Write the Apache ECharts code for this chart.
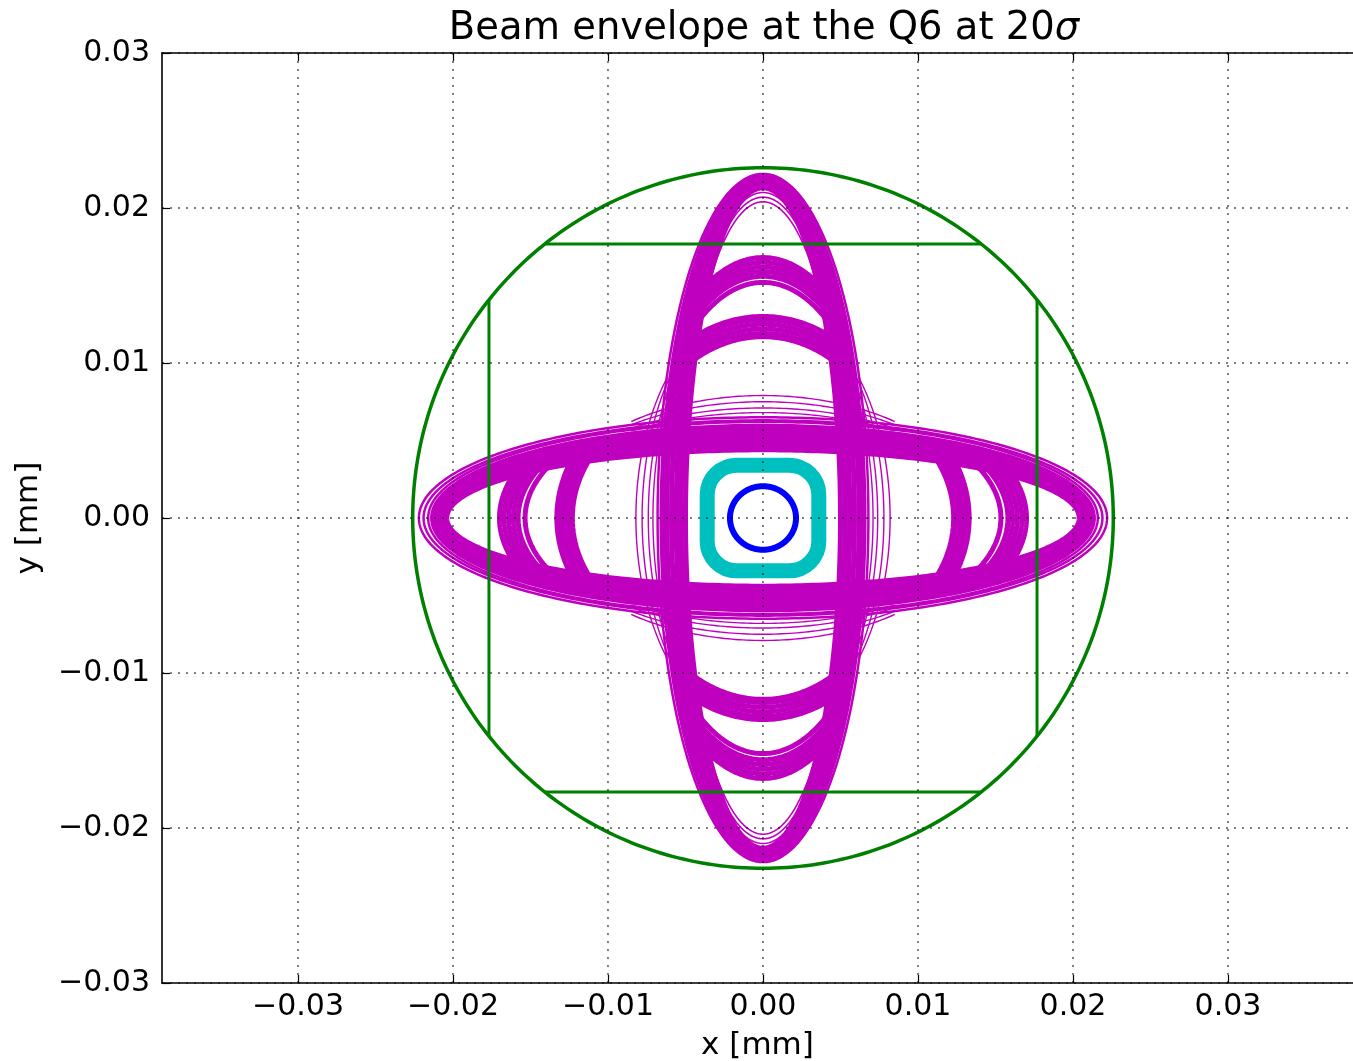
<!DOCTYPE html>
<html>
<head>
<meta charset="utf-8">
<script src="https://cdn.jsdelivr.net/npm/echarts@6/dist/echarts.min.js"></script>
<style>
  html, body { margin: 0; padding: 0; background: #ffffff; }
  #chart { width: 1353px; height: 1061px; }
</style>
</head>
<body>
<div id="chart"></div>
<script>
// Axis extents and tick values (mm)
const xMin = -0.038774;
const xMax = 0.038065;
const yLimit = 0.03;
const xTickValues = [-0.03, -0.02, -0.01, 0.00, 0.01, 0.02, 0.03];
const yTickValues = [-0.03, -0.02, -0.01, 0.00, 0.01, 0.02, 0.03];

// 20 sigma envelope, tall family: [semi-axis x, semi-axis y]
const tallCore = [[0.0050, 0.0213], [0.0053, 0.0215], [0.0056, 0.0217], [0.0059, 0.0218], [0.0062, 0.0220], [0.0064, 0.0221]];
const tallOuterLines = [[0.0066, 0.0221], [0.0068, 0.0222]];
const tallInnerLines = [[0.0052, 0.0204], [0.0054, 0.0207], [0.0055, 0.0210]];
// tall family, intermediate arcs (drawn where |x| <= tallArcLimit)
const tallArcLimit = 0.0046;
const tallArcMid = [[0.0082, 0.0168], [0.0081, 0.0165], [0.0080, 0.0162], [0.0079, 0.0159], [0.0078, 0.0156], [0.0076, 0.0152]];
const tallArcLow = [[0.0101, 0.0130], [0.0099, 0.0128], [0.0097, 0.0125], [0.0095, 0.0122], [0.0093, 0.0119], [0.0091, 0.0117]];
// tall family, sparse outer traces (drawn where |y| <= tallFlareLimit)
const tallFlareLimit = 0.0090;
const tallFlares = [[0.0071, 0.0150], [0.0074, 0.0147], [0.0078, 0.0143], [0.0082, 0.0138]];

// 20 sigma envelope, wide family
const wideCore = [[0.0204, 0.0044], [0.0206, 0.0046], [0.0207, 0.0048], [0.0208, 0.0050], [0.0209, 0.0052], [0.0210, 0.0054], [0.0211, 0.0056], [0.0212, 0.0058]];
const wideOuterLines = [[0.0214, 0.0060], [0.0216, 0.0062], [0.0219, 0.0063], [0.0222, 0.0065]];
// wide family, intermediate arcs (drawn where |y| <= limit)
const wideArcMidLimit = 0.0038;
const wideArcMid = [[0.0170, 0.0087], [0.0167, 0.0085], [0.0164, 0.0083], [0.0161, 0.0081], [0.0158, 0.0079], [0.01535, 0.0077]];
const wideArcLowLimit = 0.0041;
const wideArcLow = [[0.0133, 0.0101], [0.0131, 0.0099], [0.0129, 0.0097], [0.0127, 0.0095], [0.0125, 0.0093], [0.0123, 0.0091]];
// wide family, sparse outer traces (drawn where |x| <= wideFlareLimit)
const wideFlareLimit = 0.0085;
const wideFlares = [[0.0150, 0.0068], [0.0146, 0.0071], [0.0142, 0.0075], [0.0138, 0.0079]];

// Small-amplitude envelope: [half width, half height, corner radius]
const coreEnvelope = [[0.0036, 0.0034, 0.0019]];
// 1 sigma beam: [semi-axis x, semi-axis y]
const beamSigma = [[0.00213, 0.00205]];
// Aperture: circle radius and rectangle half size
const apertureRadius = [0.0226];
const apertureHalfSize = [0.01768];

const FONT = 'DejaVu Sans';
const MAGENTA = '#bf00bf';
const STEPS = 360;

function ellipsePoints(api, a, b, t0, t1) {
  const pts = [];
  const n = Math.max(8, Math.ceil(STEPS * Math.abs(t1 - t0) / (2 * Math.PI)));
  for (let k = 0; k <= n; k++) {
    const t = t0 + (t1 - t0) * k / n;
    pts.push(api.coord([a * Math.cos(t), b * Math.sin(t)]));
  }
  return pts;
}

function fullEllipse(color, width) {
  return function (params, api) {
    const a = api.value(0), b = api.value(1);
    return {
      type: 'polyline',
      shape: { points: ellipsePoints(api, a, b, 0, 2 * Math.PI) },
      style: { stroke: color, lineWidth: width, fill: null, lineJoin: 'round' }
    };
  };
}

// Top and bottom pieces of an ellipse, where |x| <= limit
function capArcs(color, width, limit) {
  return function (params, api) {
    const a = api.value(0), b = api.value(1);
    const t0 = Math.acos(Math.min(1, limit / a));
    const st = { stroke: color, lineWidth: width, fill: null, lineJoin: 'round' };
    return {
      type: 'group',
      children: [
        { type: 'polyline', shape: { points: ellipsePoints(api, a, b, t0, Math.PI - t0) }, style: st },
        { type: 'polyline', shape: { points: ellipsePoints(api, a, b, Math.PI + t0, 2 * Math.PI - t0) }, style: st }
      ]
    };
  };
}

// Left and right pieces of an ellipse, where |y| <= limit
function sideArcs(color, width, limit) {
  return function (params, api) {
    const a = api.value(0), b = api.value(1);
    const t0 = Math.asin(Math.min(1, limit / b));
    const st = { stroke: color, lineWidth: width, fill: null, lineJoin: 'round' };
    return {
      type: 'group',
      children: [
        { type: 'polyline', shape: { points: ellipsePoints(api, a, b, -t0, t0) }, style: st },
        { type: 'polyline', shape: { points: ellipsePoints(api, a, b, Math.PI - t0, Math.PI + t0) }, style: st }
      ]
    };
  };
}

function envelopeSeries(name, data, renderItem, z) {
  return { type: 'custom', name: name, data: data, renderItem: renderItem, z: z, silent: true, animation: false };
}

const tickLabel = v => (v < -1e-9 ? '\u2212' : '') + Math.abs(v).toFixed(2);

const series = [
  envelopeSeries('tallCore', tallCore, fullEllipse(MAGENTA, 5), 2),
  envelopeSeries('tallOuter', tallOuterLines, fullEllipse(MAGENTA, 2.5), 2),
  envelopeSeries('tallInner', tallInnerLines, fullEllipse(MAGENTA, 1.6), 2),
  envelopeSeries('tallArcMid', tallArcMid, capArcs(MAGENTA, 5, tallArcLimit), 2),
  envelopeSeries('tallArcLow', tallArcLow, capArcs(MAGENTA, 5, tallArcLimit), 2),
  envelopeSeries('tallFlares', tallFlares, sideArcs(MAGENTA, 1.4, tallFlareLimit), 2),
  envelopeSeries('wideCore', wideCore, fullEllipse(MAGENTA, 5), 2),
  envelopeSeries('wideOuter', wideOuterLines, fullEllipse(MAGENTA, 2.5), 2),
  envelopeSeries('wideArcMid', wideArcMid, sideArcs(MAGENTA, 5, wideArcMidLimit), 2),
  envelopeSeries('wideArcLow', wideArcLow, sideArcs(MAGENTA, 5, wideArcLowLimit), 2),
  envelopeSeries('wideFlares', wideFlares, capArcs(MAGENTA, 1.4, wideFlareLimit), 2),
  {
    type: 'custom', name: 'coreEnvelope', data: coreEnvelope, z: 3, silent: true, animation: false,
    renderItem: function (params, api) {
      const hw = api.value(0), hh = api.value(1), r = api.value(2);
      const p0 = api.coord([-hw, hh]);
      const p1 = api.coord([hw, -hh]);
      const rp = api.size([r, r]);
      return {
        type: 'rect',
        shape: { x: p0[0], y: p0[1], width: p1[0] - p0[0], height: p1[1] - p0[1], r: rp[0] },
        style: { stroke: '#00bfbf', lineWidth: 15, fill: null }
      };
    }
  },
  envelopeSeries('beamSigma', beamSigma, fullEllipse('#0000ff', 6), 4),
  {
    type: 'custom', name: 'aperture', data: [[apertureRadius[0], apertureHalfSize[0]]], z: 5, silent: true, animation: false,
    renderItem: function (params, api) {
      const R = api.value(0), h = api.value(1);
      const c = Math.sqrt(R * R - h * h);
      const st = { stroke: '#008000', lineWidth: 3, fill: null };
      const seg = (x0, y0, x1, y1) => {
        const p = api.coord([x0, y0]), q = api.coord([x1, y1]);
        return { type: 'line', shape: { x1: p[0], y1: p[1], x2: q[0], y2: q[1] }, style: st };
      };
      return {
        type: 'group',
        children: [
          { type: 'polyline', shape: { points: ellipsePoints(api, R, R, 0, 2 * Math.PI) }, style: { stroke: '#008000', lineWidth: 3.5, fill: null } },
          seg(-c, h, c, h), seg(-c, -h, c, -h), seg(h, -c, h, c), seg(-h, -c, -h, c)
        ]
      };
    }
  },
  {
    type: 'custom', name: 'xGrid', data: xTickValues.map(v => [v, 0]), z: 10, silent: true, animation: false,
    renderItem: function (params, api) {
      const v = api.value(0);
      const p = api.coord([v, -yLimit]), q = api.coord([v, yLimit]);
      return { type: 'line', shape: { x1: p[0], y1: p[1], x2: q[0], y2: q[1] },
        style: { stroke: '#000', lineWidth: 1, lineDash: [2, 6] } };
    }
  },
  {
    type: 'custom', name: 'yGrid', data: yTickValues.map(v => [0, v]), z: 10, silent: true, animation: false,
    renderItem: function (params, api) {
      const v = api.value(1);
      const p = api.coord([xMin, v]), q = api.coord([xMax, v]);
      return { type: 'line', shape: { x1: p[0], y1: p[1], x2: q[0], y2: q[1] },
        style: { stroke: '#000', lineWidth: 1, lineDash: [2, 6] } };
    }
  }
];

const axisLineStyle = { show: true, onZero: false, lineStyle: { color: '#000', width: 1.6 } };
const tickStyle = { show: true, inside: true, length: 8, lineStyle: { color: '#000', width: 1.2 } };

const option = {
  backgroundColor: '#ffffff',
  animation: false,
  title: {
    text: 'Beam envelope at the Q6 at 20{s|σ}',
    left: 759, top: 4, textAlign: 'center',
    textStyle: {
      fontFamily: FONT, fontSize: 38.5, fontWeight: 'normal', color: '#000',
      rich: { s: { fontFamily: FONT, fontSize: 38.5, fontStyle: 'italic', color: '#000' } }
    }
  },
  grid: { left: 162, top: 53, right: 0, height: 930, show: false, outerBoundsMode: 'none', containLabel: false },
  xAxis: [
    {
      type: 'value', position: 'bottom', min: xMin, max: xMax,
      axisLine: axisLineStyle,
      axisTick: Object.assign({ customValues: xTickValues }, tickStyle),
      axisLabel: { customValues: xTickValues, formatter: tickLabel, fontFamily: FONT, fontSize: 30, color: '#000', margin: 9, lineHeight: 30 },
      splitLine: { show: false },
      name: 'x [mm]', nameLocation: 'middle', nameGap: 47,
      nameTextStyle: { fontFamily: FONT, fontSize: 31, color: '#000', lineHeight: 31 }
    },
    {
      type: 'value', position: 'top', min: xMin, max: xMax,
      axisLine: axisLineStyle,
      axisTick: Object.assign({ customValues: xTickValues }, tickStyle),
      axisLabel: { show: false },
      splitLine: { show: false }
    }
  ],
  yAxis: [
    {
      type: 'value', position: 'left', min: -yLimit, max: yLimit, interval: 0.01,
      axisLine: axisLineStyle,
      axisTick: tickStyle,
      axisLabel: { formatter: tickLabel, fontFamily: FONT, fontSize: 30, color: '#000', margin: 12, lineHeight: 30 },
      splitLine: { show: false },
      name: 'y [mm]', nameLocation: 'middle', nameGap: 118,
      nameTextStyle: { fontFamily: FONT, fontSize: 31, color: '#000', lineHeight: 31 }
    }
  ],
  series: series
};

const chart = echarts.init(document.getElementById('chart'), null, { renderer: 'canvas' });
chart.setOption(option);
</script>
</body>
</html>
